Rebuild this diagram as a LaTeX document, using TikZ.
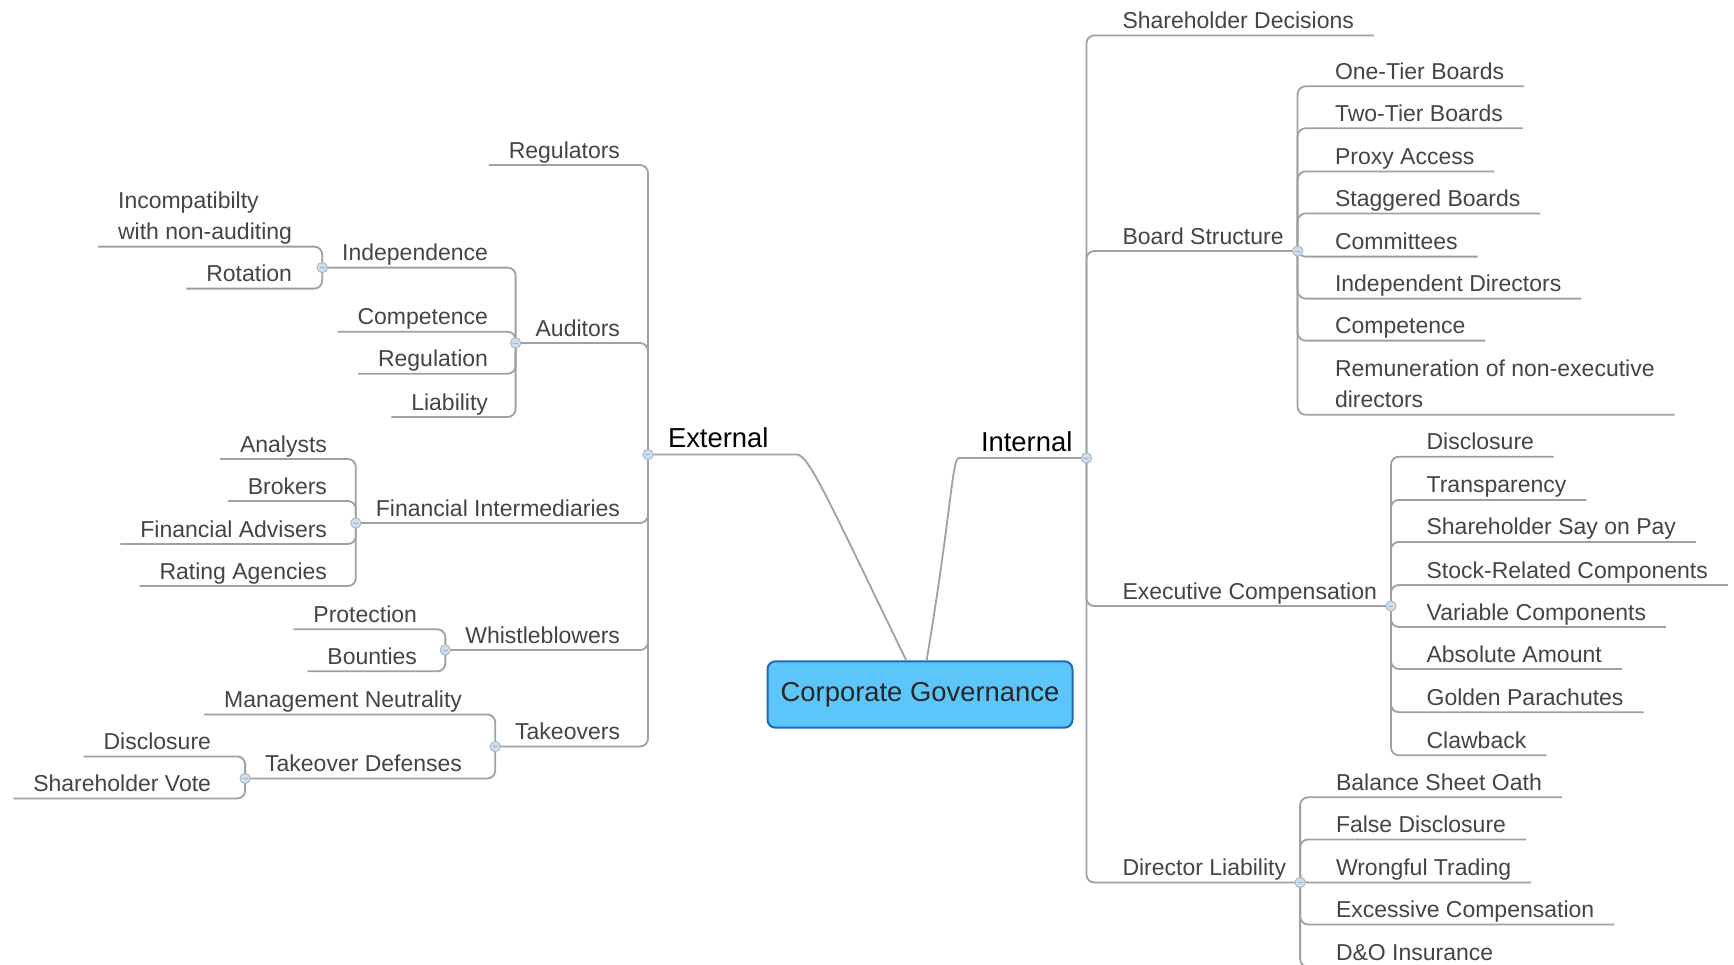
\documentclass[tikz,border=0pt]{standalone}
\usepackage{fontspec}
\setmainfont{Liberation Sans}
\usepackage{tikz}

\definecolor{linegray}{RGB}{160,160,160}
\definecolor{txtgray}{RGB}{68,68,68}
\definecolor{boxfill}{RGB}{92,198,250}
\definecolor{boxedge}{RGB}{30,105,185}
\definecolor{markfill}{RGB}{208,222,236}
\definecolor{markedge}{RGB}{160,178,198}

\begin{document}
\begin{tikzpicture}[x=0.5pt,y=-0.5pt]

      %styles for the map
      \tikzset{
      topic/.style={font=\fontsize{11.5}{15.5}\selectfont, text=txtgray,
        inner xsep=10pt, inner ysep=0pt, outer sep=0pt,
        execute at end node={\rule[-3.5pt]{0pt}{3.5pt}}},
      ltopic/.style={topic, anchor=south east},
      rtopic/.style={topic, anchor=south west},
      rhub/.style={rtopic, inner xsep=7pt},
      side/.style={font=\fontsize{13.7}{16}\selectfont, text=black},
      conn/.style={draw=linegray, line width=0.9pt, rounded corners=4pt},
      marker/.style={fill=markfill, draw=markedge, line width=0.4pt},
      cgbox/.style={draw=boxedge, fill=boxfill, line width=1pt, rounded corners=4pt,
        minimum width=152.5pt, minimum height=33.2pt, inner sep=0pt,
        font=\fontsize{13.7}{16}\selectfont, text=black!85},
      }

      \useasboundingbox (0,0) rectangle (1734,964);

      %root
      \node[cgbox] (cg) at (920,694.5) {Corporate Governance};

      %external side
      \node[topic, side, anchor=south west] (ext) at (648,454.5) {External};
      \node[ltopic] (regul) at (640,165) {Regulators};
      \node[ltopic] (aud) at (640,343) {Auditors};
      \node[ltopic] (fin) at (640,523) {Financial Intermediaries};
      \node[ltopic] (whistle) at (640,650) {Whistleblowers};
      \node[ltopic] (take) at (640,746.5) {Takeovers};

      %auditors
      \node[ltopic] (indep) at (508,267.6) {Independence};
      \node[ltopic] (audcomp) at (508,331.8) {Competence};
      \node[ltopic] (audreg) at (508,373.8) {Regulation};
      \node[ltopic] (audliab) at (508,417) {Liability};
      \node[ltopic, align=left] (incomp) at (312,246.6) {Incompatibilty\\with non-auditing};
      \node[ltopic] (rot) at (312,288.6) {Rotation};

      %intermediaries
      \node[ltopic] (analyst) at (347,459) {Analysts};
      \node[ltopic] (broker) at (347,501) {Brokers};
      \node[ltopic] (advis) at (347,544) {Financial Advisers};
      \node[ltopic] (rating) at (347,586) {Rating Agencies};

      %whistleblowers
      \node[ltopic] (protect) at (437,629.3) {Protection};
      \node[ltopic] (bounty) at (437,671.3) {Bounties};

      %takeovers
      \node[ltopic] (neutral) at (482,714.4) {Management Neutrality};
      \node[ltopic] (defense) at (482,778.5) {Takeover Defenses};
      \node[ltopic] (tddisc) at (231,756.4) {Disclosure};
      \node[ltopic] (tdvote) at (231,798.5) {Shareholder Vote};

      %internal side
      \node[topic, side, anchor=south west, inner xsep=7pt] (int) at (967,458) {Internal};
      \node[rtopic] (shdec) at (1102.5,35.4) {Shareholder Decisions};
      \node[rhub] (board) at (1108.5,251) {Board Structure};
      \node[rhub] (exec) at (1108.5,606) {Executive Compensation};
      \node[rhub] (dirliab) at (1108.5,882.5) {Director Liability};

      %board structure
      \node[rtopic] (onetier) at (1315,86.3) {One-Tier Boards};
      \node[rtopic] (twotier) at (1315,128.3) {Two-Tier Boards};
      \node[rtopic] (proxy) at (1315,171.4) {Proxy Access};
      \node[rtopic] (stagger) at (1315,213.4) {Staggered Boards};
      \node[rtopic] (committ) at (1315,256.6) {Committees};
      \node[rtopic] (indepdir) at (1315,298.6) {Independent Directors};
      \node[rtopic] (bcomp) at (1315,340.6) {Competence};
      \node[rtopic, align=left] (remun) at (1315,414.7) {Remuneration of non-executive\\directors};

      %executive compensation
      \node[rtopic] (ecdisc) at (1406.6,456.7) {Disclosure};
      \node[rtopic] (transp) at (1406.6,499.9) {Transparency};
      \node[rtopic] (sayon) at (1406.6,541.9) {Shareholder Say on Pay};
      \node[rtopic] (stock) at (1406.6,585) {Stock-Related Components};
      \node[rtopic] (variab) at (1406.6,627) {Variable Components};
      \node[rtopic] (absol) at (1406.6,669) {Absolute Amount};
      \node[rtopic] (golden) at (1406.6,712.2) {Golden Parachutes};
      \node[rtopic] (claw) at (1406.6,755.3) {Clawback};

      %director liability
      \node[rtopic] (oath) at (1316,797.3) {Balance Sheet Oath};
      \node[rtopic] (falsedisc) at (1316,839.4) {False Disclosure};
      \node[rtopic] (wrongful) at (1316,882.5) {Wrongful Trading};
      \node[rtopic] (excess) at (1316,924.5) {Excessive Compensation};
      \node[rtopic] (dando) at (1316,967) {D\&O Insurance};

      %root to both sides
      \draw[conn] (cg.112) .. controls +(-80,-165) and +(20,0) .. (ext.south east) -- (ext.south west);
      \draw[conn] (cg.79) .. controls +(25,-150) and +(-15,0) .. (int.south west) -- (int.south east);

      %left branches
      \foreach \c in {regul,aud,fin,whistle,take}
        \draw[conn] (ext.south west) |- (\c.south west);
      \foreach \c in {indep,audcomp,audreg,audliab}
        \draw[conn] (aud.south west) |- (\c.south west);
      \foreach \c in {incomp,rot}
        \draw[conn] (indep.south west) |- (\c.south west);
      \foreach \c in {analyst,broker,advis,rating}
        \draw[conn] (fin.south west) |- (\c.south west);
      \foreach \c in {protect,bounty}
        \draw[conn] (whistle.south west) |- (\c.south west);
      \foreach \c in {neutral,defense}
        \draw[conn] (take.south west) |- (\c.south west);
      \foreach \c in {tddisc,tdvote}
        \draw[conn] (defense.south west) |- (\c.south west);

      %right branches
      \foreach \c in {shdec,board,exec,dirliab}
        \draw[conn] (int.south east) |- (\c.south east);
      \foreach \c in {onetier,twotier,proxy,stagger,committ,indepdir,bcomp,remun}
        \draw[conn] (board.south east) |- (\c.south east);
      \foreach \c in {ecdisc,transp,sayon,stock,variab,absol,golden,claw}
        \draw[conn] (exec.south east) |- (\c.south east);
      \foreach \c in {oath,falsedisc,wrongful,excess,dando}
        \draw[conn] (dirliab.south east) |- (\c.south east);

      %collapse markers
      \foreach \m in {ext.south west,aud.south west,indep.south west,fin.south west,
        whistle.south west,take.south west,defense.south west,int.south east,
        board.south east,exec.south east,dirliab.south east}{
        \filldraw[marker] (\m) circle[radius=2.6pt];
        \draw[markedge, line width=0.5pt] ([xshift=-1.2pt]\m) -- ([xshift=1.2pt]\m);
      }
    \end{tikzpicture}
\end{document}
